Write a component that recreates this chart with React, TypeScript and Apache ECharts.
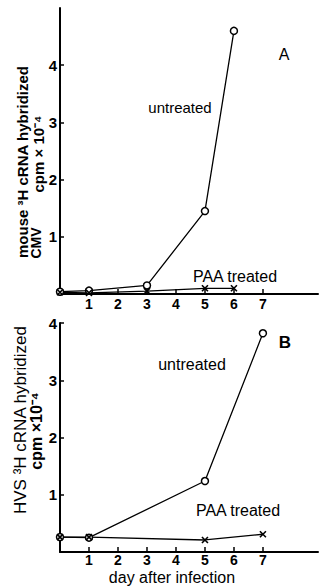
import React, { useEffect, useRef } from "react";
import * as echarts from "echarts";

const dayTicks = [1, 2, 3, 4, 5, 6, 7];
const yTicks = [1, 2, 3, 4];

const aUntreatedDays = [0, 1, 3, 5, 6];
const aUntreated = [0.04, 0.06, 0.15, 1.45, 4.6];
const aPaaDays = [0, 1, 3, 5, 6];
const aPaa = [0.03, 0.02, 0.05, 0.1, 0.1];

const bUntreatedDays = [0, 1, 5, 7];
const bUntreated = [0.26, 0.25, 1.24, 3.82];
const bPaaDays = [0, 1, 5, 7];
const bPaa = [0.26, 0.26, 0.21, 0.31];

const FONT = "Liberation Sans";
const CROSS = "path://M0,0L10,10M10,0L0,10";

function pairs(xs: number[], ys: number[]) {
  return xs.map((x, i) => [x, ys[i]]);
}

export default function App() {
  const ref = useRef<HTMLDivElement>(null);
  useEffect(() => {
    if (!ref.current) return;
    const chart = echarts.init(ref.current, null, { renderer: "svg" });
    const xAxisBase = (gridIndex: number, labelMargin: number) => ({
      type: "value",
      gridIndex,
      min: 0,
      max: 8.9,
      interval: 1,
      splitLine: { show: false },
      axisLine: { lineStyle: { color: "#000", width: 2 } },
      axisTick: { inside: true, length: 5, customValues: dayTicks, lineStyle: { color: "#000", width: 1.5 } },
      axisLabel: {
        customValues: dayTicks,
        margin: labelMargin,
        color: "#000",
        fontFamily: FONT,
        fontWeight: "bold",
        fontSize: 14,
      },
    });
    const yAxisBase = (gridIndex: number, max: number) => ({
      type: "value",
      gridIndex,
      min: 0,
      max,
      interval: 1,
      splitLine: { show: false },
      axisLine: { show: true, lineStyle: { color: "#000", width: 2 } },
      axisTick: { show: true, inside: true, length: 4, customValues: yTicks, lineStyle: { color: "#000", width: 1.5 } },
      axisLabel: {
        customValues: yTicks,
        margin: 3,
        color: "#000",
        fontFamily: FONT,
        fontWeight: "bold",
        fontSize: 15,
      },
    });
    const untreatedStyle = {
      type: "line",
      symbol: "circle",
      symbolSize: 7,
      lineStyle: { color: "#000", width: 1.3 },
      itemStyle: { color: "#fff", borderColor: "#000", borderWidth: 1.5 },
    };
    const paaStyle = {
      type: "line",
      symbol: CROSS,
      symbolSize: 6,
      lineStyle: { color: "#000", width: 1.3 },
      itemStyle: { color: "#000", borderColor: "#000", borderWidth: 1.6 },
    };
    const txt = (text: string, x: number, y: number, size: number, rotation = 0, weight = "normal") => ({
      type: "text",
      x,
      y,
      rotation,
      style: {
        text,
        fontFamily: FONT,
        fontSize: size,
        fontWeight: weight,
        fill: "#000",
        align: "center",
        verticalAlign: "middle",
      },
    });
    chart.setOption({
      animation: false,
      grid: [
        { left: 60, top: 8, width: 258, height: 286 },
        { left: 60, top: 323, width: 258, height: 229 },
      ],
      xAxis: [xAxisBase(0, 3), xAxisBase(1, 1)],
      yAxis: [yAxisBase(0, 5), yAxisBase(1, 4)],
      series: [
        { ...untreatedStyle, xAxisIndex: 0, yAxisIndex: 0, data: pairs(aUntreatedDays, aUntreated) },
        { ...paaStyle, xAxisIndex: 0, yAxisIndex: 0, data: pairs(aPaaDays, aPaa) },
        { ...untreatedStyle, xAxisIndex: 1, yAxisIndex: 1, data: pairs(bUntreatedDays, bUntreated) },
        { ...paaStyle, xAxisIndex: 1, yAxisIndex: 1, data: pairs(bPaaDays, bPaa) },
      ],
      graphic: [
        txt("A", 284, 54, 16),
        txt("untreated", 180, 107, 15),
        txt("PAA treated", 235, 276, 16),
        txt("B", 285, 342, 17, 0, "bold"),
        txt("untreated", 192, 364, 16),
        txt("PAA treated", 238, 510, 16),
        txt("day after infection", 172, 577, 16),
        txt("mouse ³H cRNA hybridized", 22, 162, 15, Math.PI / 2, "bold"),
        txt("CMV", 36, 243, 14, Math.PI / 2, "bold"),
        txt("cpm × 10⁻⁴", 38, 154, 15, Math.PI / 2, "bold"),
        txt("HVS ³H cRNA hybridized", 20, 420, 17, Math.PI / 2),
        txt("cpm ×10⁻⁴", 36, 431, 16, Math.PI / 2, "bold"),
      ],
    });
    return () => chart.dispose();
  }, []);
  return <div ref={ref} style={{ width: 319, height: 586, position: "absolute", left: 0, top: 0 }} />;
}
